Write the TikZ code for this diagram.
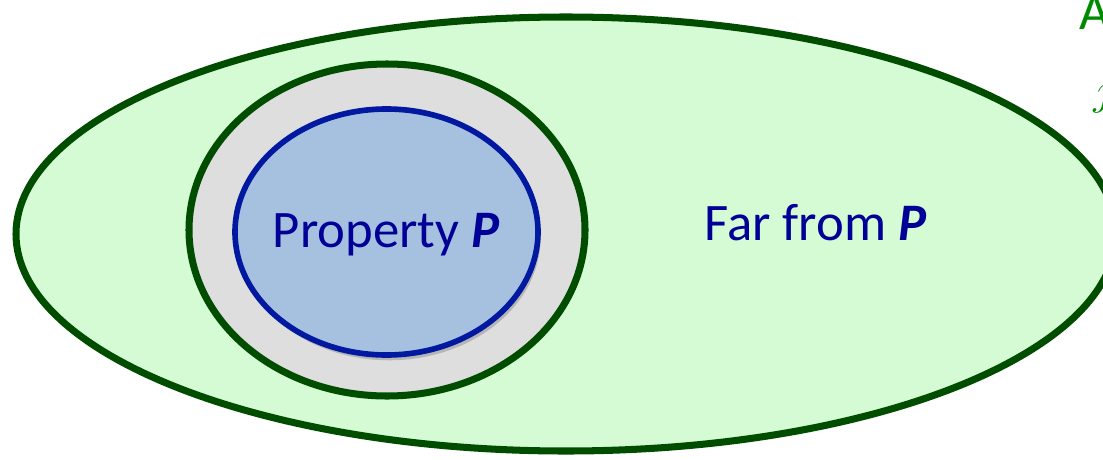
\documentclass[tikz,border=0pt]{standalone}
\usepackage{fontspec}
\setmainfont{Carlito}
\usepackage{tikz}
\usetikzlibrary{shapes.geometric, shadows}
\definecolor{Leaf}{HTML}{004D00}
\definecolor{Mint}{HTML}{D5FBD5}
\definecolor{Fog}{HTML}{DEDEDE}
\definecolor{Steel}{HTML}{A6C1E0}
\definecolor{Royal}{HTML}{0019A0}
\definecolor{Navy}{HTML}{000096}
\definecolor{Grass}{HTML}{008A00}

\begin{document}
\begin{tikzpicture}[
        font=\fontsize{30}{36}\selectfont,
        zone/.style={ellipse, draw, inner sep=0pt, outer sep=0pt},
        farzone/.style={zone, draw=Leaf, line width=4pt, fill=Mint, minimum width=22.0cm, minimum height=8.68cm},
        nearzone/.style={zone, draw=Leaf, line width=4pt, fill=Fog, minimum width=7.92cm, minimum height=6.64cm},
        propzone/.style={zone, draw=Royal, line width=3.2pt, fill=Steel, minimum width=6.06cm, minimum height=4.92cm,
          drop shadow={shadow xshift=1.5pt, shadow yshift=-3pt, fill=black, opacity=0.18}},
        lbl/.style={text=Navy, inner sep=0pt, anchor=base}
      ]
        \useasboundingbox (0,0) rectangle (22.06,-9.18);
        \clip (0,0) rectangle (22.06,-9.18);

        \node[farzone] (far) at (11.32,-4.68) {};
        \node[nearzone] (near) at (7.74,-4.60) {};
        \node[propzone] (prop) at (7.73,-4.64) {};

        \node[lbl] (proplbl) at (7.72,-4.94) {Property \textbf{\textit{P}}};
        \node[lbl] (farlbl) at (16.31,-4.80) {Far from \textbf{\textit{P}}};

        % cut off at the right edge
        \node[text=Grass, inner sep=0pt, anchor=base west] (topA) at (21.58,-0.58) {A};
        \node[text=Grass, inner sep=0pt, anchor=base west] (topj) at (21.86,-2.08) {$j$};
      \end{tikzpicture}
\end{document}
